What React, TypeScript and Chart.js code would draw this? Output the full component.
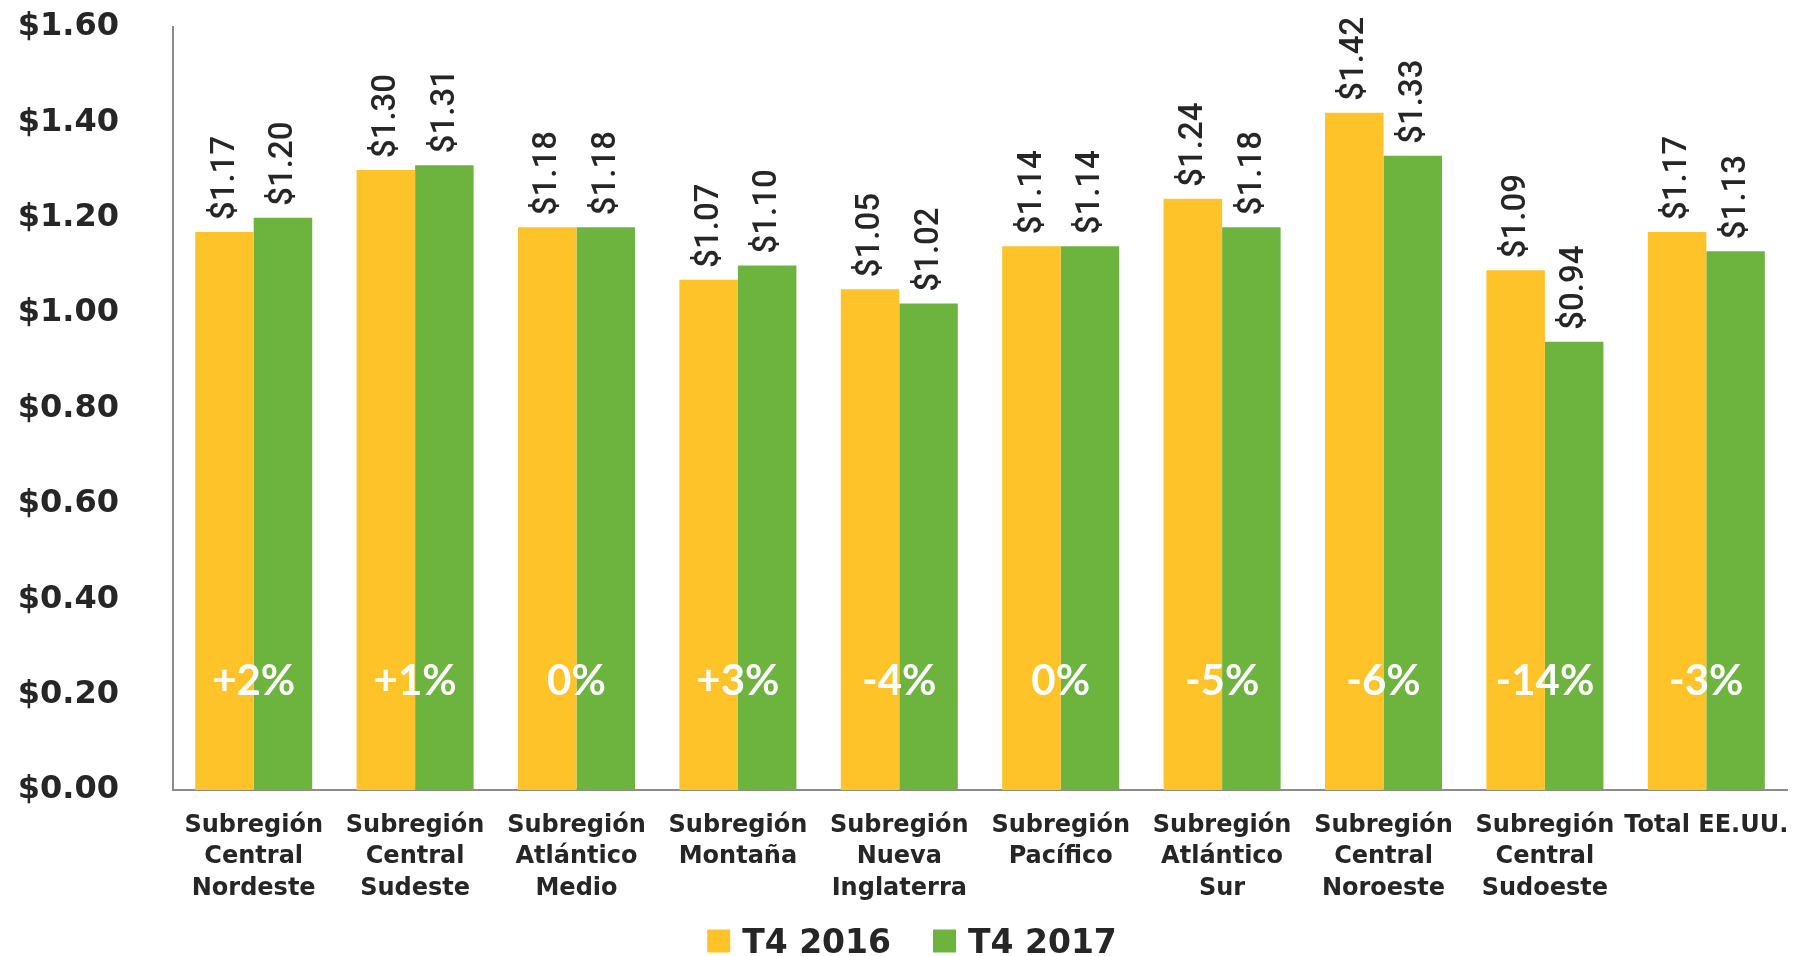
import React, { useEffect, useRef } from "react";
import { Chart, registerables } from "chart.js";

Chart.register(...registerables);

const categories: string[][] = [
  ["Subregión", "Central", "Nordeste"],
  ["Subregión", "Central", "Sudeste"],
  ["Subregión", "Atlántico", "Medio"],
  ["Subregión", "Montaña"],
  ["Subregión", "Nueva", "Inglaterra"],
  ["Subregión", "Pacífico"],
  ["Subregión", "Atlántico", "Sur"],
  ["Subregión", "Central", "Noroeste"],
  ["Subregión", "Central", "Sudoeste"],
  ["Total EE.UU."],
];

const series2016: number[] = [1.17, 1.30, 1.18, 1.07, 1.05, 1.14, 1.24, 1.42, 1.09, 1.17];
const series2017: number[] = [1.20, 1.31, 1.18, 1.10, 1.02, 1.14, 1.18, 1.33, 0.94, 1.13];
const changeLabels: string[] = ["+2%", "+1%", "0%", "+3%", "-4%", "0%", "-5%", "-6%", "-14%", "-3%"];
const seriesNames: string[] = ["T4 2016", "T4 2017"];
const yTicks: number[] = [0, 0.2, 0.4, 0.6, 0.8, 1.0, 1.2, 1.4, 1.6];

const YELLOW = "#FDC328";
const GREEN = "#6DB43F";
const TEXT = "#262626";
const AXIS = "#8C8C8C";

const valueLabelPlugin = {
  id: "valueLabels",
  afterDatasetsDraw(chart: any) {
    const ctx = chart.ctx;
    ctx.save();
    ctx.font = "500 33px Roboto";
    ctx.fillStyle = TEXT;
    ctx.textAlign = "left";
    ctx.textBaseline = "middle";
    chart.data.datasets.forEach((ds: any, di: number) => {
      const meta = chart.getDatasetMeta(di);
      meta.data.forEach((bar: any, i: number) => {
        const v = ds.data[i] as number;
        ctx.save();
        ctx.translate(bar.x + 1, bar.y - 12);
        ctx.rotate(-Math.PI / 2);
        ctx.fillText("$" + v.toFixed(2), 0, 0);
        ctx.restore();
      });
    });
    // percent change labels
    const xs = chart.scales.x;
    ctx.font = "bold 42px Lato";
    ctx.fillStyle = "#FFFFFF";
    ctx.textAlign = "center";
    ctx.textBaseline = "middle";
    const y = chart.chartArea.bottom - 109;
    changeLabels.forEach((t, i) => {
      ctx.fillText(t, xs.getPixelForValue(i), y);
    });
    ctx.restore();
  },
};

const legendPlugin = {
  id: "customLegend",
  afterDraw(chart: any) {
    const ctx = chart.ctx;
    ctx.save();
    ctx.font = "bold 33px 'DejaVu Sans'";
    ctx.textBaseline = "alphabetic";
    ctx.textAlign = "left";
    const box = 23;
    const gapBox = 12;
    const gapItem = 42;
    const widths = chart.data.datasets.map((d: any) => ctx.measureText(d.label).width);
    const total = widths.reduce((a: number, w: number) => a + box + gapBox + w, 0) + gapItem * (widths.length - 1);
    let x = 912 - total / 2;
    const cy = 941;
    chart.data.datasets.forEach((d: any, i: number) => {
      ctx.fillStyle = d.backgroundColor;
      ctx.fillRect(x, cy - box / 2, box, box);
      x += box + gapBox;
      ctx.fillStyle = TEXT;
      ctx.fillText(d.label, x, cy + 12);
      x += widths[i] + gapItem;
    });
    ctx.restore();
  },
};

export default function App() {
  const ref = useRef<HTMLCanvasElement>(null);
  useEffect(() => {
    if (!ref.current) return;
    const chart = new Chart(ref.current, {
      type: "bar",
      data: {
        labels: categories,
        datasets: [
          { label: seriesNames[0], data: series2016, backgroundColor: YELLOW, categoryPercentage: 0.725, barPercentage: 1.0 },
          { label: seriesNames[1], data: series2017, backgroundColor: GREEN, categoryPercentage: 0.725, barPercentage: 1.0 },
        ],
      },
      options: {
        responsive: false,
        animation: false,
        layout: { padding: { top: 27, right: 12, bottom: 0, left: 0 } },
        plugins: {
          legend: { display: false },
          tooltip: { enabled: false },
        },
        scales: {
          x: {
            grid: { display: false, drawTicks: false },
            border: { display: true, color: AXIS, width: 2 },
            ticks: {
              color: TEXT,
              font: { family: "'DejaVu Sans'", weight: "bold", size: 24, lineHeight: 1.31 },
              padding: 20,
              maxRotation: 0,
              autoSkip: false,
            },
            afterFit: (s: any) => {
              s.height = 166;
              s.paddingLeft = 0;
              s.paddingRight = 0;
            },
          },
          y: {
            min: 0,
            max: 1.6,
            afterBuildTicks: (s: any) => {
              s.ticks = yTicks.map((v) => ({ value: v }));
            },
            grid: { display: false, drawTicks: false },
            border: { display: true, color: AXIS, width: 2 },
            ticks: {
              color: TEXT,
              font: { family: "'DejaVu Sans'", weight: "bold", size: 32 },
              padding: 54,
              callback: (v: any) => "$" + Number(v).toFixed(2),
            },
            afterFit: (s: any) => {
              s.width = 173;
              s.paddingTop = 0;
              s.paddingBottom = 0;
            },
          },
        },
      },
      plugins: [valueLabelPlugin, legendPlugin],
    });
    return () => chart.destroy();
  }, []);
  return (
    <div style={{ position: "absolute", left: 0, top: 0, width: 1799, height: 956, background: "#fff" }}>
      <canvas ref={ref} width={1799} height={956} />
    </div>
  );
}
